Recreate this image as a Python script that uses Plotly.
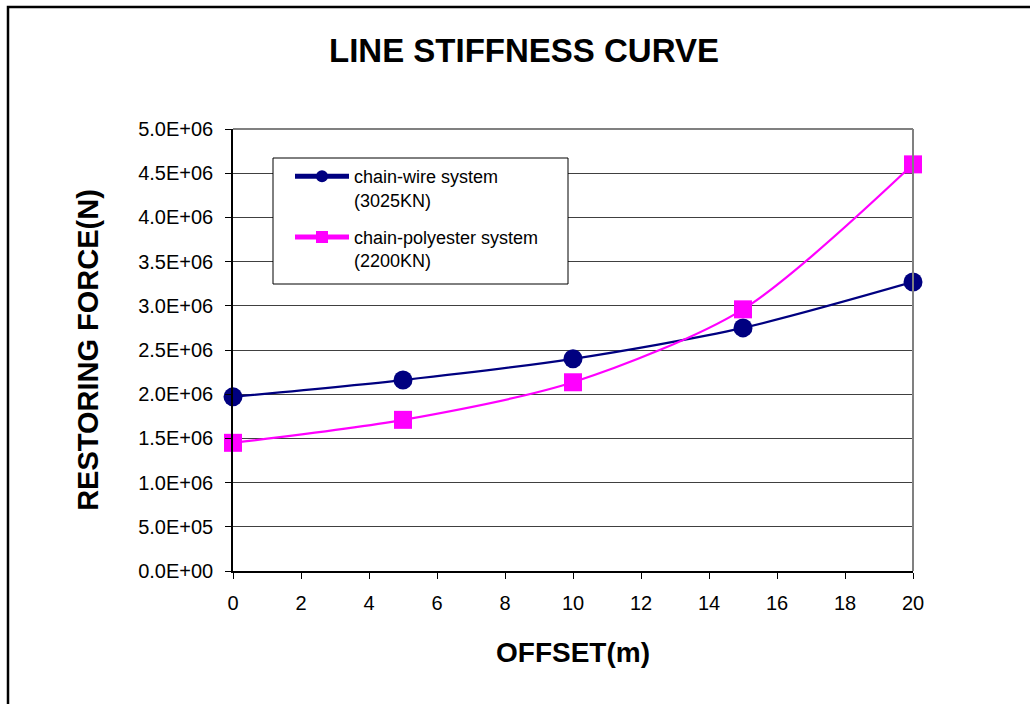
import plotly.graph_objects as go

# Offset of the floating unit (m)
offset = [0, 5, 10, 15, 20]

# Restoring force (N) for each mooring configuration
chain_wire = [1.97e6, 2.16e6, 2.40e6, 2.75e6, 3.27e6]
chain_polyester = [1.45e6, 1.71e6, 2.135e6, 2.96e6, 4.60e6]

series_names = ["chain-wire system<br>(3025KN)", "chain-polyester system<br>(2200KN)"]

y_ticks = [i * 0.5e6 for i in range(11)]
y_ticktext = [f"{v:.1E}" for v in y_ticks]
x_ticks = list(range(0, 21, 2))

FONT = "Liberation Sans, Arial, sans-serif"

W, H = 1030, 704
ML, MR, MT, MB = 233, 117, 129, 133
PW, PH = W - ML - MR, H - MT - MB


def px_x(px):
    return (px - ML) / PW


def px_y(py):
    return (MT + PH - py) / PH


fig = go.Figure()

fig.add_trace(go.Scatter(
    x=offset, y=chain_wire, name=series_names[0], legendgroup="wire",
    mode="lines+markers", cliponaxis=False,
    line=dict(color="#000080", width=2.2, shape="spline", smoothing=0.8),
    marker=dict(symbol="circle", size=19, color="#000080"),
))
fig.add_trace(go.Scatter(
    x=offset, y=chain_polyester, name=series_names[1], legendgroup="poly",
    mode="lines+markers", cliponaxis=False,
    line=dict(color="#FF00FF", width=2.2, shape="spline", smoothing=0.8),
    marker=dict(symbol="square", size=18, color="#FF00FF"),
))

# outer chart frame (left and top edges visible)
fig.add_shape(type="rect", xref="paper", yref="paper",
              x0=px_x(8), x1=1.4, y0=-0.6, y1=px_y(7),
              line=dict(color="black", width=2.5), layer="below")
# grey plot-area border on top and right
fig.add_shape(type="line", xref="paper", yref="paper", x0=0, x1=1, y0=1, y1=1,
              line=dict(color="#808080", width=2))
fig.add_shape(type="line", xref="paper", yref="paper", x0=1, x1=1, y0=0, y1=1,
              line=dict(color="#808080", width=2))
# legend box
fig.add_shape(type="rect", xref="paper", yref="paper",
              x0=px_x(273), x1=px_x(568), y0=px_y(284), y1=px_y(158),
              line=dict(color="black", width=1), fillcolor="white", layer="above")

fig.update_layout(
    width=W, height=H,
    margin=dict(l=ML, r=MR, t=MT, b=MB, pad=0),
    paper_bgcolor="white", plot_bgcolor="white",
    font=dict(family=FONT, color="black"),
    title=dict(text="LINE STIFFNESS CURVE", x=524 / W, xanchor="center",
               xref="container", y=1 - 50 / H, yanchor="middle", yref="container",
               font=dict(size=33, family=FONT, weight="bold", color="black")),
    xaxis=dict(
        range=[0, 20], tickvals=x_ticks, showgrid=False, zeroline=False,
        showline=True, linecolor="black", linewidth=2,
        ticks="outside", ticklen=6, tickcolor="black", tickwidth=1,
        ticklabelstandoff=7,
        tickfont=dict(size=20, family=FONT),
        title=dict(text="OFFSET(m)", standoff=29,
                   font=dict(size=28, family=FONT, weight="bold")),
    ),
    yaxis=dict(
        range=[0, 5e6], tickvals=y_ticks, ticktext=y_ticktext,
        showgrid=True, gridcolor="#404040", gridwidth=1, zeroline=False,
        showline=True, linecolor="black", linewidth=1.5,
        ticks="outside", ticklen=6, tickcolor="black", tickwidth=1,
        ticklabelstandoff=8,
        tickfont=dict(size=20, family=FONT),
        title=dict(text="RESTORING FORCE(N)", standoff=31,
                   font=dict(size=29, family=FONT, weight="bold")),
    ),
    legend=dict(
        x=px_x(290), y=px_y(158), xanchor="left", yanchor="top",
        bgcolor="rgba(0,0,0,0)", borderwidth=0,
        font=dict(size=18, family=FONT, color="black"),
        itemsizing="constant", itemwidth=54, valign="top",
        traceorder="grouped", tracegroupgap=11,
    ),
    showlegend=True,
)

fig.write_html("out.html")
